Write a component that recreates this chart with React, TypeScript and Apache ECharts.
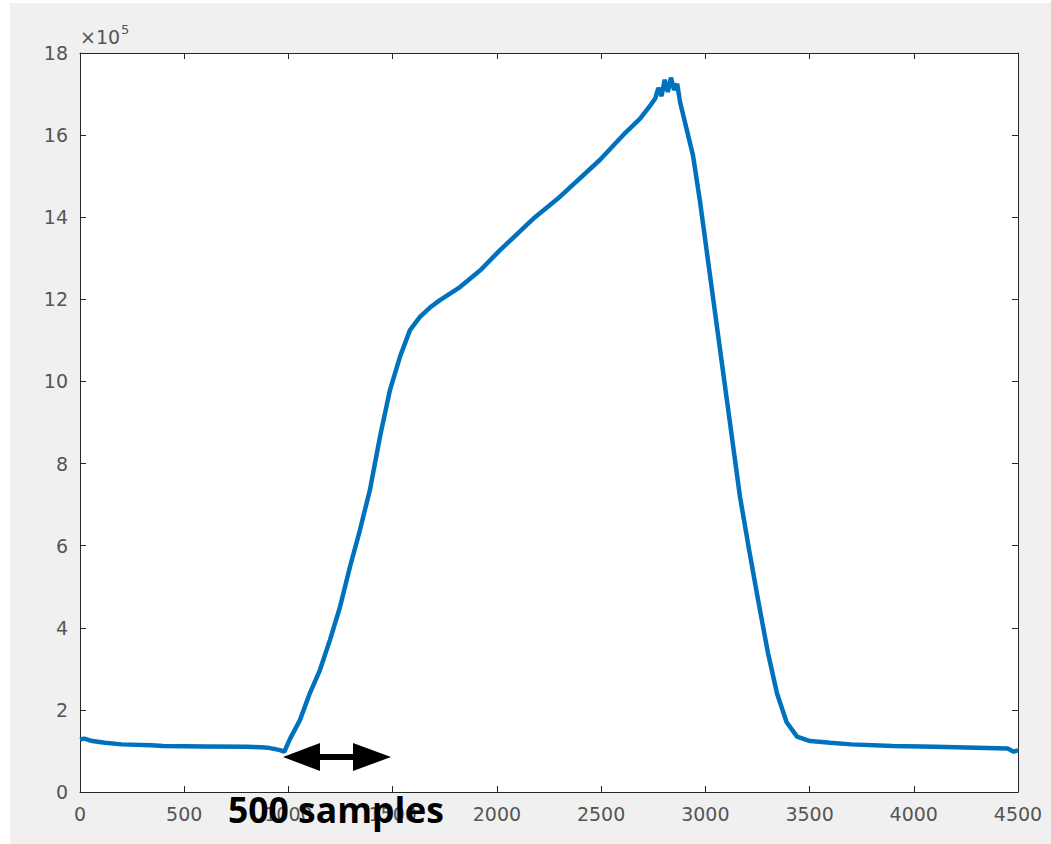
import React, { useEffect, useRef } from "react";
import * as echarts from "echarts";

// sample index and signal value (in units of 1e5)
const samples = [
  0, 20, 60, 120, 200, 340, 400, 600, 800, 900, 960, 980, 1008, 1055, 1103, 1151, 1199, 1247, 1295,
  1343, 1391, 1439, 1487, 1535, 1583, 1631, 1679, 1727, 1823, 1919, 2015, 2183, 2303, 2495, 2615,
  2687, 2740, 2760, 2775, 2790, 2805, 2820, 2835, 2850, 2865, 2879, 2941, 2974, 3022, 3070, 3118,
  3166, 3210, 3253, 3300, 3344, 3390, 3440, 3502, 3600, 3700, 3900, 4100, 4300, 4450, 4480, 4500,
];
const values = [
  1.28, 1.3, 1.24, 1.2, 1.16, 1.14, 1.12, 1.11, 1.1, 1.08, 1.02, 0.98, 1.3, 1.75, 2.41, 2.97, 3.7,
  4.5, 5.48, 6.38, 7.36, 8.65, 9.79, 10.6, 11.25, 11.57, 11.8, 11.98, 12.3, 12.7, 13.2, 14.0, 14.5,
  15.4, 16.05, 16.4, 16.75, 16.9, 17.15, 16.95, 17.35, 17.05, 17.4, 17.1, 17.25, 16.8, 15.5, 14.4,
  12.6, 10.8, 9.0, 7.2, 5.9, 4.68, 3.4, 2.4, 1.7, 1.35, 1.24, 1.2, 1.16, 1.12, 1.1, 1.08, 1.06, 0.98,
  1.02,
];
const xTicks = { min: 0, max: 4500, interval: 500 };
const yTicks = { min: 0, max: 18, interval: 2 };
const exponentLabel = "×10";
const exponentPower = "5";
const annotation = "500 samples";

export default function App() {
  const ref = useRef<HTMLDivElement>(null);
  useEffect(() => {
    if (!ref.current) return;
    const chart = echarts.init(ref.current, null, { renderer: "svg" });
    const axisFont = { fontFamily: "DejaVu Sans", fontSize: 19, color: "#555" };
    const lineStyle = { color: "#262626", width: 1 };
    chart.setOption({
      animation: false,
      backgroundColor: "#f0f0f0",
      grid: { left: 70, top: 50, right: 33, bottom: 52, show: true, backgroundColor: "#fff", borderWidth: 0 },
      xAxis: [
        {
          type: "value",
          ...xTicks,
          axisLine: { show: true, onZero: false, lineStyle },
          axisTick: { show: true, inside: true, length: 6, lineStyle },
          axisLabel: { ...axisFont, margin: 12, formatter: (v: number) => String(v) },
          splitLine: { show: false },
        },
        {
          type: "value",
          position: "top",
          ...xTicks,
          axisLine: { show: true, onZero: false, lineStyle },
          axisTick: { show: true, inside: true, length: 6, lineStyle },
          axisLabel: { show: false },
          splitLine: { show: false },
        },
      ],
      yAxis: [
        {
          type: "value",
          ...yTicks,
          axisLine: { show: true, onZero: false, lineStyle },
          axisTick: { show: true, inside: true, length: 6, lineStyle },
          axisLabel: { ...axisFont, margin: 12 },
          splitLine: { show: false },
        },
        {
          type: "value",
          position: "right",
          ...yTicks,
          axisLine: { show: true, onZero: false, lineStyle },
          axisTick: { show: true, inside: true, length: 6, lineStyle },
          axisLabel: { show: false },
          splitLine: { show: false },
        },
      ],
      series: [
        {
          type: "line",
          data: samples.map((s, i) => [s, values[i]]),
          showSymbol: false,
          lineStyle: { color: "#0072BD", width: 4.5 },
          z: 3,
        },
      ],
      graphic: [
        {
          type: "text",
          left: 70,
          top: 20,
          style: {
            text: `{a|${exponentLabel}}{b|${exponentPower}}`,
            rich: {
              a: { fontFamily: "DejaVu Sans", fontSize: 19, fill: "#555", verticalAlign: "bottom" },
              b: { fontFamily: "DejaVu Sans", fontSize: 13, fill: "#555", verticalAlign: "top", padding: [0, 0, 10, 1] },
            },
          },
        },
        {
          type: "polygon",
          z: 100,
          shape: { points: [[273, 754], [310, 740], [310, 768]] },
          style: { fill: "#000" },
        },
        {
          type: "polygon",
          z: 100,
          shape: { points: [[381, 754], [343, 740], [343, 768]] },
          style: { fill: "#000" },
        },
        {
          type: "rect",
          z: 100,
          shape: { x: 308, y: 751, width: 37, height: 6 },
          style: { fill: "#000" },
        },
        {
          type: "text",
          z: 100,
          x: 218,
          y: 806,
          style: {
            text: annotation,
            fontFamily: "Open Sans",
            fontWeight: "bold",
            fontSize: 35.5,
            fill: "#000",
            verticalAlign: "middle",
          },
        },
      ],
    });
    return () => chart.dispose();
  }, []);
  return (
    <div
      ref={ref}
      style={{ position: "fixed", left: 10, top: 3, width: 1041, height: 841 }}
    />
  );
}
